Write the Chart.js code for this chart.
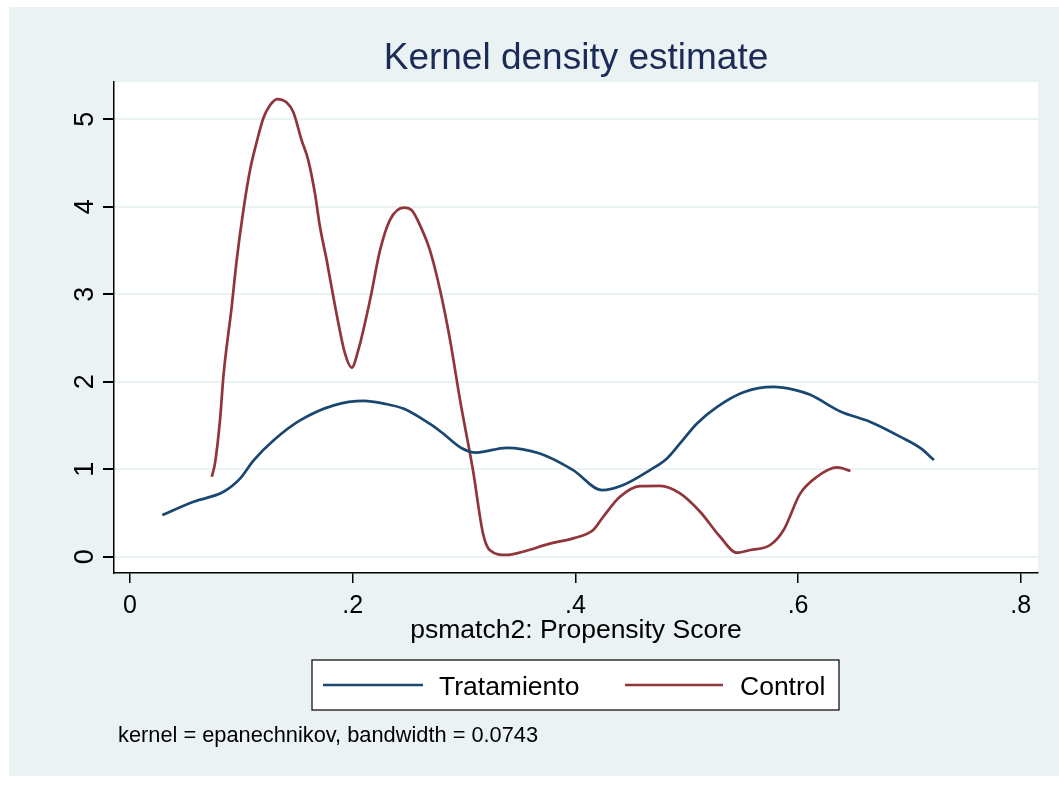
<!DOCTYPE html>
<html>
<head>
<meta charset="utf-8">
<title>Kernel density estimate</title>
<script src="https://cdn.jsdelivr.net/npm/chart.js@4.4.1/dist/chart.umd.min.js"></script>
<style>
  html, body { margin: 0; padding: 0; background: #ffffff; }
  #wrap { width: 1059px; height: 786px; }
</style>
</head>
<body>
<div id="wrap"><canvas id="myChart" width="1059" height="786"></canvas></div>
<script>
// values
const treatX = [0.029, 0.057, 0.084, 0.099, 0.111, 0.129, 0.153, 0.183, 0.210, 0.228, 0.246, 0.269, 0.280, 0.298, 0.311, 0.338, 0.368, 0.398, 0.424, 0.443, 0.467, 0.482, 0.494, 0.509, 0.527, 0.551, 0.578, 0.596, 0.611, 0.638, 0.665, 0.692, 0.710, 0.722];
const treatY = [0.476, 0.628, 0.742, 0.895, 1.10, 1.33, 1.56, 1.73, 1.78, 1.75, 1.69, 1.52, 1.42, 1.24, 1.19, 1.245, 1.18, 0.99, 0.76, 0.82, 0.99, 1.12, 1.295, 1.52, 1.71, 1.88, 1.94, 1.91, 1.85, 1.66, 1.54, 1.37, 1.24, 1.105];

const controlX = [0.0734, 0.0763, 0.0808, 0.0840, 0.0913, 0.0958, 0.1018, 0.1078, 0.1138, 0.1197, 0.1257, 0.1323, 0.1407, 0.1467, 0.1541, 0.1601, 0.1661, 0.1706, 0.1766, 0.1826, 0.1871, 0.1931, 0.1991, 0.205, 0.2155, 0.2245, 0.2335, 0.246, 0.253, 0.2604, 0.2694, 0.2784, 0.2874, 0.2964, 0.308, 0.317, 0.323, 0.338, 0.353, 0.377, 0.398, 0.416, 0.425, 0.440, 0.458, 0.476, 0.494, 0.512, 0.530, 0.545, 0.557, 0.575, 0.587, 0.602, 0.617, 0.635, 0.647];
const controlY = [0.914, 1.067, 1.56, 2.08, 2.856, 3.39, 3.96, 4.42, 4.74, 5.01, 5.16, 5.23, 5.19, 5.08, 4.76, 4.53, 4.15, 3.77, 3.39, 2.97, 2.67, 2.32, 2.16, 2.36, 2.93, 3.50, 3.85, 3.99, 3.96, 3.79, 3.50, 3.05, 2.48, 1.79, 0.99, 0.267, 0.077, 0.02, 0.057, 0.15, 0.21, 0.305, 0.457, 0.685, 0.807, 0.81, 0.724, 0.514, 0.228, 0.046, 0.077, 0.134, 0.305, 0.724, 0.914, 1.02, 0.98];

const seriesNames = ['Tratamiento', 'Control'];
const xTicks = [0, 0.2, 0.4, 0.6, 0.8];
const xTickLabels = ['0', '.2', '.4', '.6', '.8'];
const yTicks = [0, 1, 2, 3, 4, 5];
const yTickLabels = ['0', '1', '2', '3', '4', '5'];

const titleText = 'Kernel density estimate';
const xTitleText = 'psmatch2: Propensity Score';
const noteText = 'kernel = epanechnikov, bandwidth = 0.0743';

const FONT = '"Liberation Sans", Arial, sans-serif';
const BLUE = '#1a476f';
const RED = '#90353b';
const BG = '#eaf2f3';

const toPoints = (xs, ys) => xs.map((x, i) => ({ x: x, y: ys[i] }));

// outer panel + white plot region
const backdrop = {
  id: 'backdrop',
  beforeDraw(chart) {
    const ctx = chart.ctx;
    const a = chart.chartArea;
    ctx.save();
    ctx.fillStyle = '#ffffff';
    ctx.fillRect(0, 0, chart.width, chart.height);
    ctx.fillStyle = BG;
    ctx.fillRect(9, 7, chart.width - 9, 769);
    ctx.fillStyle = '#ffffff';
    ctx.fillRect(a.left, a.top, a.right - a.left, a.bottom - a.top);
    ctx.restore();
  }
};

// title, rotated y labels, boxed legend, note
const extras = {
  id: 'extras',
  afterDraw(chart) {
    const ctx = chart.ctx;
    const a = chart.chartArea;
    const yScale = chart.scales.y;
    ctx.save();

    ctx.fillStyle = '#1c2a57';
    ctx.font = '37px ' + FONT;
    ctx.textAlign = 'center';
    ctx.textBaseline = 'alphabetic';
    ctx.fillText(titleText, (a.left + a.right) / 2, 69);

    ctx.fillStyle = '#000000';
    ctx.font = '27px ' + FONT;
    yTicks.forEach((v, i) => {
      const py = yScale.getPixelForValue(v);
      ctx.save();
      ctx.translate(93, py);
      ctx.rotate(-Math.PI / 2);
      ctx.textAlign = 'center';
      ctx.textBaseline = 'alphabetic';
      ctx.fillText(yTickLabels[i], 0, 0);
      ctx.restore();
    });

    // legend box
    const lx = 312, ly = 660, lw = 527, lh = 50;
    ctx.fillStyle = '#ffffff';
    ctx.fillRect(lx, ly, lw, lh);
    ctx.strokeStyle = '#000000';
    ctx.lineWidth = 1.2;
    ctx.strokeRect(lx, ly, lw, lh);
    const items = [{ x0: 323, x1: 423, tx: 439 }, { x0: 625, x1: 723, tx: 740 }];
    chart.data.datasets.forEach((ds, i) => {
      const it = items[i];
      ctx.strokeStyle = ds.borderColor;
      ctx.lineWidth = 2.5;
      ctx.beginPath();
      ctx.moveTo(it.x0, 685);
      ctx.lineTo(it.x1, 685);
      ctx.stroke();
      ctx.fillStyle = '#000000';
      ctx.font = '26.5px ' + FONT;
      ctx.textAlign = 'left';
      ctx.textBaseline = 'alphabetic';
      ctx.fillText(ds.label, it.tx, 695);
    });

    ctx.font = '21.8px ' + FONT;
    ctx.fillText(noteText, 118, 742);
    ctx.restore();
  }
};

const ctx = document.getElementById('myChart');
new Chart(ctx, {
  type: 'line',
  data: {
    datasets: [
      {
        label: seriesNames[0],
        data: toPoints(treatX, treatY),
        borderColor: BLUE,
        borderWidth: 2.7,
        pointRadius: 0,
        cubicInterpolationMode: 'monotone',
        fill: false
      },
      {
        label: seriesNames[1],
        data: toPoints(controlX, controlY),
        borderColor: RED,
        borderWidth: 2.7,
        pointRadius: 0,
        cubicInterpolationMode: 'monotone',
        fill: false
      }
    ]
  },
  options: {
    responsive: false,
    animation: false,
    events: [],
    layout: { padding: { top: 82, left: 103, right: 21, bottom: 139 } },
    plugins: {
      legend: { display: false },
      title: { display: false },
      tooltip: { enabled: false }
    },
    scales: {
      x: {
        type: 'linear',
        min: -0.0144,
        max: 0.8155,
        afterBuildTicks: (scale) => { scale.ticks = xTicks.map(v => ({ value: v })); },
        afterFit: (scale) => { scale.height = 74; },
        border: { display: true, color: '#000000', width: 1.5 },
        grid: { drawOnChartArea: false, drawTicks: true, tickLength: 10, tickColor: '#000000', lineWidth: 1.5 },
        ticks: {
          padding: 8,
          maxRotation: 0,
          color: '#000000',
          font: { family: FONT, size: 25 },
          callback: (v) => xTickLabels[xTicks.indexOf(v)]
        },
        title: {
          display: true,
          text: xTitleText,
          color: '#000000',
          padding: { top: 0, bottom: 0 },
          font: { family: FONT, size: 26.5 }
        }
      },
      y: {
        type: 'linear',
        min: -0.186,
        max: 5.425,
        afterBuildTicks: (scale) => { scale.ticks = yTicks.map(v => ({ value: v })); },
        afterFit: (scale) => { scale.width = 11; },
        border: { display: true, color: '#000000', width: 1.5 },
        grid: { color: BG, lineWidth: 2, drawTicks: true, tickLength: 11, tickColor: '#000000' },
        ticks: { display: false }
      }
    }
  },
  plugins: [backdrop, extras]
});
</script>
</body>
</html>
